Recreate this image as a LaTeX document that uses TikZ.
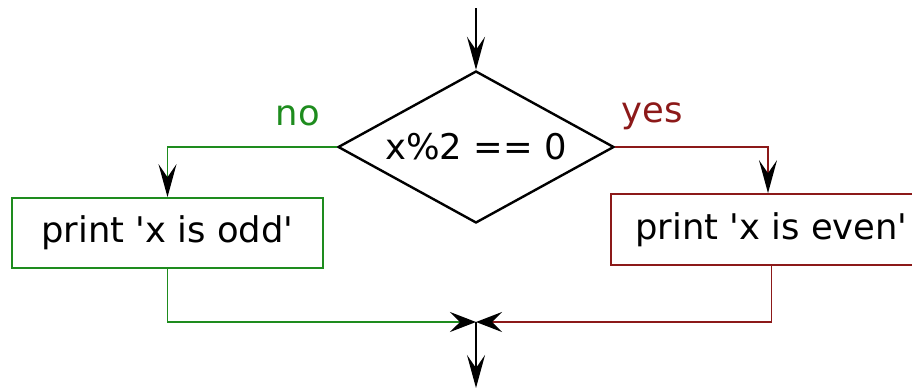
\documentclass[tikz,border=0pt]{standalone}
\usepackage{fontspec}
\setmainfont{DejaVu Sans}
\usetikzlibrary{shapes.geometric,arrows.meta}
\definecolor{nogreen}{RGB}{30,140,30}
\definecolor{yesred}{RGB}{140,25,25}
\newcommand{\sq}{\textquotesingle}
\tikzset{
  txt/.style={font=\fontsize{35.5}{42}\selectfont},
  tip/.style={-{Stealth[length=33bp,width=18bp,inset=13bp,color=black]}},
  tipsm/.style={-{Stealth[length=26bp,width=20bp,inset=10bp,color=black]}},
  blackline/.style={draw=black,line width=2.4bp},
  greenline/.style={draw=nogreen,line width=1.7bp},
  redline/.style={draw=yesred,line width=1.7bp},
  decision/.style={diamond,draw=black,line width=2.4bp,inner sep=0pt,aspect=1.8,minimum width=276bp,minimum height=152bp,txt},
  stepbox/.style={rectangle,inner sep=0pt,line width=1.7bp,txt}
}
\begin{document}
\begin{tikzpicture}[x=1bp,y=-1bp]
\useasboundingbox (0,0) rectangle (912,387);
\coordinate (top) at (476,8);
\coordinate (merge) at (476,322);
\coordinate (bot) at (476,388);
\node[decision] (d) at (476,147) {x\%2 == 0};
\node[stepbox,draw=nogreen,minimum width=311bp,minimum height=70bp] (odd) at (167.5,233) {print \sq x is odd\sq};
\node[stepbox,draw=yesred,minimum width=321bp,minimum height=71bp] (even) at (771.5,229.5) {print \sq x is even\sq};
\node[txt,text=nogreen] (no) at (298,116) {no};
\node[txt,text=yesred] (yes) at (652,116) {yes};
\draw[blackline,tip] (top) -- (d.north);
\draw[greenline,tip] (d.west) -| (odd.north);
\draw[redline,tip] (d.east) -| ([xshift=-3.5bp]even.north);
\draw[greenline,tipsm] (odd.south) |- (merge);
\draw[redline,tipsm] (even.south) |- (merge);
\draw[blackline,tip] (merge) -- (bot);
\end{tikzpicture}
\end{document}
